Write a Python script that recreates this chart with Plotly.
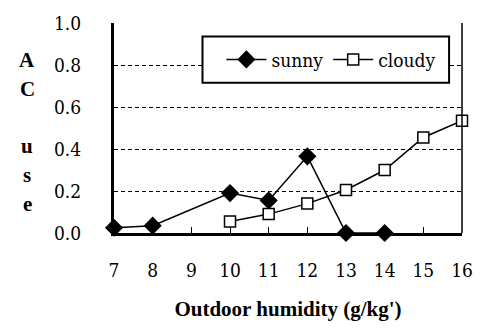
import plotly.graph_objects as go

# Outdoor humidity (g/kg') and AC use ratio for sunny and cloudy days
sunny_x = [7, 8, 10, 11, 12, 13, 14]
sunny_y = [0.025, 0.035, 0.19, 0.155, 0.365, 0.0, 0.0]
cloudy_x = [10, 11, 12, 13, 14, 15, 16]
cloudy_y = [0.055, 0.09, 0.14, 0.205, 0.30, 0.455, 0.535]

x_ticks = list(range(7, 17))
y_ticks = [0.0, 0.2, 0.4, 0.6, 0.8, 1.0]
y_title_letters = ["A", "C", "", "u", "s", "e"]

BOLD_FONT = "Liberation Serif, Times New Roman, serif"
TEXT_FONT = "DejaVu Serif Condensed, DejaVu Serif, serif"

# plot area in pixels
L, R, T, B = 114, 464, 15, 233
W, H = 485, 331


def px_x(p):
    return (p - L) / (R - L)


def px_y(p):
    return (B - p) / (B - T)


fig = go.Figure()
fig.add_trace(go.Scatter(
    x=sunny_x, y=sunny_y, name="sunny", mode="lines+markers",
    line=dict(color="black", width=1.5),
    marker=dict(symbol="diamond", size=14, color="black"),
    cliponaxis=False,
))
fig.add_trace(go.Scatter(
    x=cloudy_x, y=cloudy_y, name="cloudy", mode="lines+markers",
    line=dict(color="black", width=1.5),
    marker=dict(symbol="square", size=11, color="white",
                line=dict(color="black", width=1.5)),
    cliponaxis=False,
))

# right border of the plot area
fig.add_shape(type="line", xref="paper", yref="paper", x0=1, x1=1, y0=0, y1=1,
              line=dict(color="black", width=1.5))
# legend frame
fig.add_shape(type="rect", xref="paper", yref="paper",
              x0=px_x(203), x1=px_x(451), y0=px_y(77), y1=px_y(29),
              line=dict(color="black", width=2), fillcolor="white",
              layer="above")

# stacked vertical axis title
for i, ch in enumerate(y_title_letters):
    if not ch:
        continue
    fig.add_annotation(text=f"<b>{ch}</b>", xref="paper", yref="paper",
                       x=px_x(27), y=px_y(53 + i * 30),
                       xanchor="center", yanchor="middle", showarrow=False,
                       font=dict(family=BOLD_FONT, size=21, color="black"))

fig.update_layout(
    width=W, height=H,
    margin=dict(l=L, r=W - R, t=T, b=H - B),
    paper_bgcolor="white", plot_bgcolor="white",
    font=dict(family=TEXT_FONT, size=19, color="black"),
    showlegend=True,
    legend=dict(
        orientation="h", x=px_x(222), y=px_y(53), xanchor="left", yanchor="middle",
        bgcolor="rgba(0,0,0,0)", borderwidth=0,
        font=dict(family=TEXT_FONT, size=19, color="black"),
        itemwidth=40, tracegroupgap=0,
    ),
    xaxis=dict(
        range=[7, 16], tickvals=x_ticks, ticktext=[str(v) for v in x_ticks],
        showgrid=False, zeroline=False,
        showline=True, linecolor="black", linewidth=3,
        ticks="inside", ticklen=6, tickcolor="black", tickwidth=1,
        ticklabelstandoff=18,
        tickfont=dict(family=TEXT_FONT, size=19),
        title=dict(text="<b>Outdoor humidity (g/kg')</b>",
                   font=dict(family=BOLD_FONT, size=21), standoff=22),
    ),
    yaxis=dict(
        range=[0, 1], tickvals=y_ticks, tickformat=".1f",
        showgrid=True, gridcolor="black", griddash="4px,3px", gridwidth=1,
        zeroline=False,
        showline=True, linecolor="black", linewidth=3,
        ticks="", ticklabelstandoff=26,
        tickfont=dict(family=TEXT_FONT, size=19),
    ),
)

fig.write_html("out.html")
